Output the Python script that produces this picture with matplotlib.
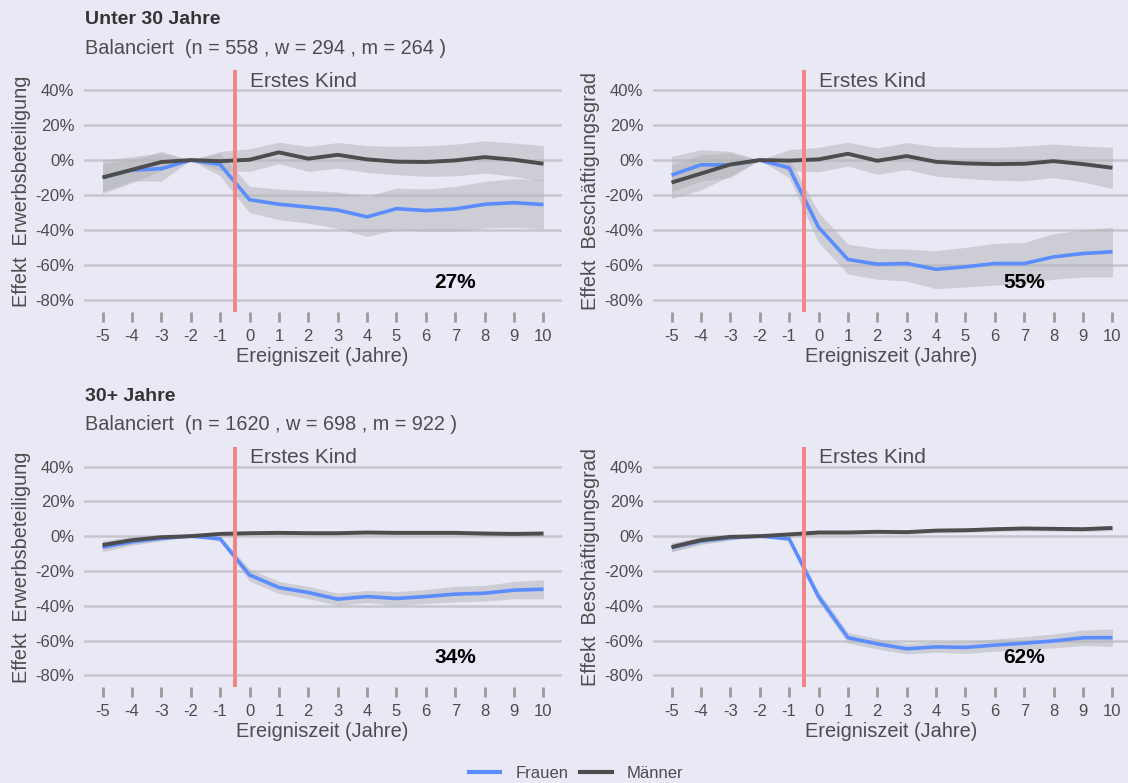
import matplotlib
matplotlib.use("Agg")
import matplotlib.pyplot as plt
from matplotlib.lines import Line2D
from matplotlib.ticker import PercentFormatter

plt.rcParams['font.family'] = ['Liberation Sans', 'DejaVu Sans']
plt.rcParams['axes.unicode_minus'] = False

# ---------------- data ----------------
years = list(range(-5, 11))

# Unter 30 Jahre - Erwerbsbeteiligung
u30_erw_m = [-9.9, -5.5, -1.1, 0, -0.6, 0.2, 4.4, 0.8, 3.0, 0.4, -0.9, -1.1, -0.2, 1.7, 0.2, -2.1]
u30_erw_m_lo = [-19, -13, -6, 0, -6, -6.5, -2, -6.5, -4.6, -7, -8.3, -9.3, -9, -7.4, -9.3, -12.1]
u30_erw_m_hi = [0, 2, 4, 0, 5, 6.5, 10.2, 7.8, 10, 8.3, 7.8, 8.2, 9.1, 11, 9.7, 8.3]
u30_erw_w = [-10, -5.7, -4.9, 0, -2.5, -22.6, -25.2, -26.8, -28.5, -32.4, -27.7, -28.8, -27.9, -25.2, -24.3, -25.4]
u30_erw_w_lo = [-18, -12, -12, 0, -9, -30, -34, -36, -39, -43.5, -39.7, -40.6, -40.6, -38.7, -38.3, -39.3]
u30_erw_w_hi = [-2, 0, 5, 0, 4, -15, -16.5, -17.3, -18.2, -20.7, -16, -16.5, -15, -12.1, -10.6, -11]

# Unter 30 Jahre - Beschaeftigungsgrad
u30_bes_m = [-12.8, -7.7, -2.5, 0, -0.3, 0.4, 3.6, -0.4, 2.3, -1, -1.9, -2.3, -2.1, -0.6, -2.3, -4.4]
u30_bes_m_lo = [-22, -17, -9, 0, -6, -6.7, -3.4, -8.2, -5.4, -9.2, -10.5, -11.5, -11.9, -10, -12.5, -16.3]
u30_bes_m_hi = [-3, 3, 4, 0, 6, 7.3, 10.2, 6.9, 10, 7.7, 7.3, 7.3, 8, 9.2, 8, 7.3]
u30_bes_w = [-8.6, -2.7, -2.7, 0, -4.4, -38.3, -56.7, -59.4, -59, -62.3, -60.9, -59, -59, -55.2, -53.3, -52.3]
u30_bes_w_lo = [-18, -12, -10, 0, -10, -47, -65, -68, -69, -73.4, -72.4, -71.3, -70.5, -68, -66.7, -66.7]
u30_bes_w_hi = [2, 6, 5, 0, 1, -29.7, -48, -50.4, -50.8, -51.7, -49.8, -47.5, -46.9, -42, -39.8, -38.3]

# 30+ Jahre - Erwerbsbeteiligung
o30_erw_m = [-5.1, -2.3, -0.6, 0, 1.3, 1.7, 1.9, 1.7, 1.7, 2.1, 1.9, 1.9, 1.9, 1.5, 1.3, 1.5]
o30_erw_m_lo = [-7.6, -4.3, -2.1, 0, 0, 0.4, 0.6, 0.4, 0.4, 0.8, 0.6, 0.6, 0.6, 0.2, 0, 0]
o30_erw_m_hi = [-2.6, -0.3, 0.9, 0, 2.6, 3, 3.2, 3, 3, 3.4, 3.2, 3.2, 3.2, 2.8, 2.6, 3]
o30_erw_w = [-6.3, -3.2, -1.3, 0, -1.5, -22.3, -29.5, -32.4, -36.2, -34.7, -35.8, -34.7, -33.3, -32.8, -31, -30.5]
o30_erw_w_lo = [-9, -5.2, -2.8, 0, -3, -25.8, -33, -35.9, -39.7, -38.2, -39.8, -38.7, -37.8, -37.3, -36, -36]
o30_erw_w_hi = [-3.6, -1.2, 0.2, 0, 0, -18.8, -26, -28.9, -32.7, -31.2, -31.8, -30.7, -28.8, -28.3, -26, -25]

# 30+ Jahre - Beschaeftigungsgrad
o30_bes_m = [-6.3, -2.3, -0.4, 0, 1, 2.1, 2.1, 2.5, 2.3, 3.2, 3.4, 4, 4.4, 4.2, 4, 4.7]
o30_bes_m_lo = [-8.8, -4.3, -1.9, 0, -0.3, 0.8, 0.8, 1.2, 1, 1.9, 2.1, 2.7, 3.1, 2.9, 2.7, 3.2]
o30_bes_m_hi = [-3.8, -0.3, 1.1, 0, 2.3, 3.4, 3.4, 3.8, 3.6, 4.5, 4.7, 5.3, 5.7, 5.5, 5.3, 6.2]
o30_bes_w = [-6.6, -2.8, -0.9, 0, -1.5, -34.7, -58.3, -61.9, -64.7, -63.6, -63.9, -62.6, -61.5, -60.2, -58.4, -58.3]
o30_bes_w_lo = [-9.1, -4.8, -2.4, 0, -3, -37.7, -61.3, -64.9, -67.7, -66.6, -67.4, -66.1, -65.3, -64.2, -62.9, -63.3]
o30_bes_w_hi = [-4.1, -0.8, 0.6, 0, 0, -31.7, -55.3, -58.9, -61.7, -60.6, -60.4, -59.1, -57.7, -56.2, -53.9, -53.3]

effect_labels = ["27%", "55%", "34%", "62%"]
row_titles = ["Unter 30 Jahre", "30+ Jahre"]
row_subtitles = ["Balanciert  (n = 558 , w = 294 , m = 264 )",
                 "Balanciert  (n = 1620 , w = 698 , m = 922 )"]
y_titles = ["Effekt  Erwerbsbeteiligung", "Effekt  Beschäftigungsgrad"]
y_ticks = [-80, -60, -40, -20, 0, 20, 40]
x_title = "Ereigniszeit (Jahre)"
event_label = "Erstes Kind"
event_x = -0.5
series_names = ["Frauen", "Männer"]

panels = [
    [(u30_erw_w, u30_erw_w_lo, u30_erw_w_hi, u30_erw_m, u30_erw_m_lo, u30_erw_m_hi),
     (u30_bes_w, u30_bes_w_lo, u30_bes_w_hi, u30_bes_m, u30_bes_m_lo, u30_bes_m_hi)],
    [(o30_erw_w, o30_erw_w_lo, o30_erw_w_hi, o30_erw_m, o30_erw_m_lo, o30_erw_m_hi),
     (o30_bes_w, o30_bes_w_lo, o30_bes_w_hi, o30_bes_m, o30_bes_m_lo, o30_bes_m_hi)],
]

# ---------------- style ----------------
BG = '#E8E9F5'
BLUE = '#5B8DFE'
DARK = '#4D4D4D'
RED = '#F28585'
TXT = '#4D4D4D'
W, H = 1128, 783

fig = plt.figure(figsize=(W / 100, H / 100), dpi=100)
fig.patch.set_facecolor(BG)

lefts = [84, 653]
rights = [562, 1131]
tops = [70, 446.7]
bottoms = [311.7, 686.7]
title_y = [20, 396]
sub_y = [48, 424]

k = 0
for r in range(2):
    fig.text(85 / W, 1 - title_y[r] / H, row_titles[r], fontsize=14, fontweight='bold',
             color='#333333', ha='left', va='center')
    fig.text(85 / W, 1 - sub_y[r] / H, row_subtitles[r], fontsize=14.3,
             color=TXT, ha='left', va='center')
    for c in range(2):
        l, rr, t, b = lefts[c], rights[c], tops[r], bottoms[r]
        ax = fig.add_axes([l / W, 1 - b / H, (rr - l) / W, (b - t) / H])
        ax.set_facecolor(BG)
        for s in ax.spines.values():
            s.set_visible(False)
        w, wlo, whi, m, mlo, mhi = panels[r][c]
        ax.set_xlim(-5.63, 10.63)
        ax.set_ylim(-86.5, 51.4)
        ax.set_yticks(y_ticks)
        ax.yaxis.set_major_formatter(PercentFormatter(decimals=0))
        ax.set_xticks(years)
        ax.set_xticklabels([str(v) for v in years])
        ax.grid(axis='y', color='#C6C6CE', linewidth=1.8, zorder=0)
        ax.grid(axis='x', visible=False)
        ax.set_axisbelow(True)
        ax.tick_params(axis='y', length=0, pad=7, labelsize=12, labelcolor=TXT)
        ax.tick_params(axis='x', length=7.2, width=2.0, color='#9A9A9A', pad=5,
                       labelsize=12, labelcolor=TXT, direction='out')
        ax.fill_between(years, wlo, whi, color='#B3B3B8', alpha=0.5, linewidth=0, zorder=1)
        ax.fill_between(years, mlo, mhi, color='#B3B3B8', alpha=0.5, linewidth=0, zorder=1)
        ax.plot(years, w, color=BLUE, linewidth=2.6, zorder=3, solid_capstyle='butt')
        ax.plot(years, m, color=DARK, linewidth=2.8, zorder=4, solid_capstyle='butt')
        ax.axvline(event_x, color=RED, linewidth=2.8, zorder=5)
        ax.text(0, 45, event_label, fontsize=15, color=TXT, ha='left', va='center', zorder=6)
        ax.text(7, -70, effect_labels[k], fontsize=15, fontweight='bold', color='black',
                ha='center', va='center', zorder=6)
        k += 1
        # axis titles
        fig.text(((l + rr) / 2 - 1) / W, 1 - (b + 45) / H, x_title, fontsize=14.4,
                 color=TXT, ha='center', va='center')
        ylx = 22 if c == 0 else 590
        fig.text(ylx / W, 1 - ((t + b) / 2 + 0.5) / H, y_titles[c], fontsize=14.3,
                 color=TXT, ha='center', va='center', rotation=90)

handles = [Line2D([0], [0], color=BLUE, linewidth=3),
           Line2D([0], [0], color=DARK, linewidth=3)]
leg = fig.legend(handles, series_names, loc='center', bbox_to_anchor=(576 / W, 1 - 773 / H),
                 ncol=2, frameon=False, fontsize=12, handlelength=1.9, columnspacing=0.7,
                 handletextpad=0.9)
for txt in leg.get_texts():
    txt.set_color(TXT)

fig.savefig('out.png', dpi=100, facecolor=BG)
